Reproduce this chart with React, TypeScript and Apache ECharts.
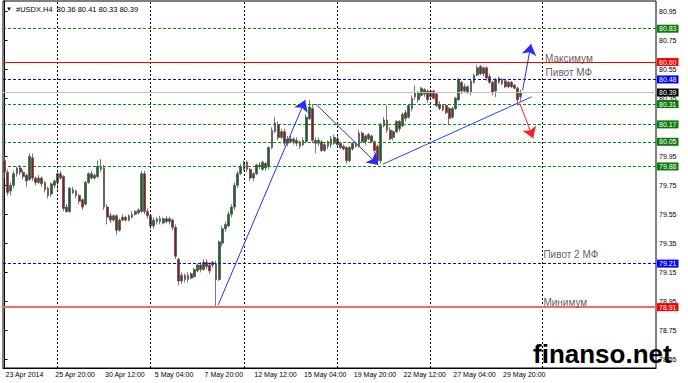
import React, { useEffect, useRef } from "react";
import * as echarts from "echarts";

const symbolName = "#USDX.H4";
const tickLabels = ["23 Apr 2014", "25 Apr 20:00", "30 Apr 12:00", "5 May 04:00", "7 May 20:00", "12 May 12:00", "15 May 04:00", "19 May 20:00", "22 May 12:00", "27 May 04:00", "29 May 20:00"];
const barsPerLabel = 16;
const totalSlots = 210;
const priceTicks = [78.55, 78.75, 78.95, 79.15, 79.35, 79.55, 79.75, 79.95, 80.35, 80.55, 80.75, 80.95];

// [open, close, low, high]
const candles: number[][] = [
  [79.92, 79.84, 79.80, 79.95], [79.84, 79.70, 79.68, 79.86], [79.71, 79.75, 79.68, 79.77], [79.75, 79.83, 79.73, 79.85],
  [79.83, 79.87, 79.81, 79.88], [79.87, 79.84, 79.82, 79.89], [79.84, 79.81, 79.79, 79.86], [79.82, 79.78, 79.74, 79.83],
  [79.79, 79.95, 79.78, 79.97], [79.94, 79.80, 79.78, 79.97], [79.80, 79.77, 79.75, 79.81], [79.77, 79.80, 79.76, 79.82],
  [79.80, 79.76, 79.74, 79.81], [79.77, 79.72, 79.70, 79.78], [79.73, 79.68, 79.66, 79.74], [79.69, 79.76, 79.67, 79.77],
  [79.75, 79.78, 79.73, 79.79], [79.77, 79.83, 79.71, 79.84], [79.83, 79.80, 79.79, 79.85], [79.81, 79.59, 79.57, 79.82],
  [79.60, 79.57, 79.56, 79.62], [79.57, 79.73, 79.56, 79.74], [79.72, 79.70, 79.69, 79.74], [79.71, 79.68, 79.66, 79.72],
  [79.68, 79.64, 79.62, 79.69], [79.65, 79.60, 79.58, 79.66], [79.62, 79.77, 79.61, 79.78], [79.77, 79.83, 79.76, 79.84],
  [79.83, 79.80, 79.79, 79.85], [79.80, 79.82, 79.79, 79.83], [79.81, 79.88, 79.80, 79.92], [79.88, 79.86, 79.84, 79.93],
  [79.87, 79.60, 79.58, 79.89], [79.60, 79.53, 79.48, 79.62], [79.54, 79.51, 79.49, 79.56], [79.51, 79.54, 79.50, 79.55],
  [79.54, 79.44, 79.41, 79.55], [79.44, 79.51, 79.43, 79.52], [79.51, 79.53, 79.50, 79.55], [79.53, 79.51, 79.50, 79.54],
  [79.51, 79.54, 79.50, 79.55], [79.53, 79.55, 79.52, 79.57], [79.55, 79.57, 79.54, 79.58], [79.56, 79.58, 79.55, 79.59],
  [79.57, 79.83, 79.56, 79.85], [79.83, 79.57, 79.55, 79.85], [79.57, 79.54, 79.52, 79.59], [79.54, 79.47, 79.45, 79.55],
  [79.47, 79.51, 79.45, 79.53], [79.50, 79.52, 79.48, 79.53], [79.52, 79.50, 79.48, 79.54], [79.49, 79.52, 79.48, 79.53],
  [79.52, 79.50, 79.49, 79.54], [79.50, 79.52, 79.48, 79.53], [79.51, 79.46, 79.44, 79.52], [79.46, 79.26, 79.24, 79.48],
  [79.24, 79.09, 79.06, 79.25], [79.09, 79.13, 79.07, 79.15], [79.13, 79.10, 79.08, 79.14], [79.10, 79.13, 79.08, 79.15],
  [79.14, 79.11, 79.10, 79.15], [79.12, 79.17, 79.11, 79.18], [79.16, 79.20, 79.15, 79.21], [79.20, 79.17, 79.15, 79.22],
  [79.17, 79.22, 79.16, 79.24], [79.22, 79.19, 79.17, 79.24], [79.20, 79.16, 79.14, 79.22], [79.22, 79.20, 79.18, 79.23],
  [79.21, 79.10, 78.91, 79.23], [79.10, 79.36, 79.09, 79.37], [79.35, 79.45, 79.33, 79.47], [79.45, 79.48, 79.43, 79.50],
  [79.47, 79.55, 79.46, 79.57], [79.55, 79.60, 79.53, 79.62], [79.60, 79.75, 79.58, 79.77], [79.75, 79.83, 79.73, 79.85],
  [79.83, 79.88, 79.82, 79.90], [79.86, 79.91, 79.85, 79.92], [79.91, 79.86, 79.84, 79.92], [79.86, 79.80, 79.78, 79.87],
  [79.80, 79.83, 79.78, 79.84], [79.83, 79.89, 79.82, 79.90], [79.88, 79.89, 79.86, 79.91], [79.86, 79.91, 79.85, 79.92],
  [79.90, 79.87, 79.85, 79.91], [79.88, 80.01, 79.86, 80.02], [80.01, 80.13, 80.00, 80.15], [80.12, 80.18, 80.11, 80.22],
  [80.17, 80.08, 80.06, 80.19], [80.08, 80.12, 80.07, 80.14], [80.12, 80.04, 80.02, 80.14], [80.04, 80.07, 80.02, 80.09],
  [80.07, 80.05, 80.04, 80.09], [80.05, 80.07, 80.03, 80.08], [80.06, 80.04, 80.02, 80.08], [80.05, 80.02, 80.00, 80.06],
  [80.03, 80.06, 80.02, 80.08], [80.05, 80.22, 80.04, 80.24], [80.21, 80.29, 80.20, 80.34], [80.28, 80.06, 80.04, 80.31],
  [80.06, 80.04, 79.97, 80.08], [80.04, 80.06, 80.02, 80.08], [80.05, 79.99, 79.98, 80.06], [79.99, 80.03, 79.98, 80.04],
  [80.02, 80.05, 80.00, 80.06], [80.07, 80.03, 80.01, 80.09], [80.04, 80.08, 80.03, 80.10], [80.07, 80.03, 80.02, 80.09],
  [80.04, 80.01, 80.00, 80.05], [80.00, 80.02, 79.99, 80.03], [80.01, 79.92, 79.90, 80.02], [79.92, 80.01, 79.91, 80.02],
  [80.00, 80.04, 79.99, 80.05], [80.04, 80.02, 80.01, 80.05], [80.02, 80.11, 80.01, 80.13], [80.11, 80.05, 80.04, 80.12],
  [80.05, 80.09, 80.03, 80.10], [80.07, 80.10, 80.06, 80.11], [80.09, 80.05, 80.04, 80.10], [80.05, 79.99, 79.97, 80.06],
  [80.02, 79.92, 79.89, 80.03], [79.92, 80.17, 79.90, 80.18], [80.16, 80.20, 80.15, 80.22], [80.20, 80.13, 80.11, 80.30],
  [80.13, 80.07, 80.06, 80.15], [80.08, 80.12, 80.06, 80.13], [80.12, 80.19, 80.11, 80.20], [80.19, 80.14, 80.12, 80.20],
  [80.16, 80.24, 80.15, 80.25], [80.25, 80.21, 80.19, 80.27], [80.22, 80.30, 80.21, 80.31], [80.28, 80.35, 80.26, 80.37],
  [80.39, 80.36, 80.34, 80.44], [80.34, 80.39, 80.32, 80.40], [80.37, 80.42, 80.36, 80.43], [80.38, 80.41, 80.36, 80.42],
  [80.40, 80.34, 80.32, 80.41], [80.36, 80.40, 80.35, 80.41], [80.40, 80.35, 80.34, 80.41], [80.38, 80.30, 80.29, 80.39],
  [80.31, 80.28, 80.27, 80.33], [80.30, 80.27, 80.26, 80.31], [80.30, 80.25, 80.24, 80.31], [80.28, 80.21, 80.17, 80.29],
  [80.22, 80.28, 80.21, 80.29], [80.28, 80.35, 80.27, 80.36], [80.34, 80.48, 80.33, 80.49], [80.46, 80.40, 80.38, 80.47],
  [80.40, 80.43, 80.39, 80.45], [80.43, 80.39, 80.38, 80.44], [80.39, 80.47, 80.37, 80.48], [80.46, 80.51, 80.45, 80.52],
  [80.51, 80.56, 80.50, 80.58], [80.57, 80.52, 80.51, 80.58], [80.52, 80.56, 80.50, 80.57], [80.56, 80.49, 80.47, 80.57],
  [80.50, 80.46, 80.45, 80.52], [80.46, 80.39, 80.37, 80.47], [80.40, 80.48, 80.36, 80.49], [80.49, 80.46, 80.45, 80.50],
  [80.48, 80.45, 80.44, 80.49], [80.47, 80.43, 80.42, 80.48], [80.43, 80.46, 80.42, 80.47], [80.46, 80.43, 80.42, 80.47],
  [80.44, 80.42, 80.41, 80.45], [80.42, 80.34, 80.30, 80.43], [80.36, 80.39, 80.33, 80.41],
];

const separatorBars = [17, 47, 77, 107, 137, 173];
const greenLevels = [80.83, 80.31, 80.17, 80.05, 79.88];
const blueLevels = [80.48, 79.21];
const redLevel = 80.6;
const minLevel = 78.91;
const bidLevel = 80.39;

// [bar index, price] pairs
const blueArrows = [
  [[68.7, 78.925], [96.7, 80.338]],
  [[100.1, 80.31], [120.2, 79.89]],
  [[166.6, 80.405], [169.3, 80.724]],
];
const trendLines = [[[121.6, 79.895], [169.5, 80.36]]];
const redArrows = [[[165.7, 80.315], [170.0, 80.074]]];

const notes = [
  { text: "Максимум", bar: 173.8, price: 80.625 },
  { text: "Пивот МФ", bar: 174.0, price: 80.528 },
  { text: "Пивот 2 МФ", bar: 173.3, price: 79.272 },
  { text: "Минимум", bar: 173.3, price: 78.945 },
];

const FONT = "'Liberation Sans', Arial, sans-serif";

function levelLine(v: number, color: string, type: any, width: number, bg: string) {
  return {
    yAxis: v,
    lineStyle: { color, type, width },
    label: {
      show: true,
      position: "end",
      formatter: v.toFixed(2),
      backgroundColor: bg,
      color: "#fff",
      fontSize: 7,
      fontFamily: FONT,
      padding: [1, 2, 0, 2],
      distance: 1,
    },
  };
}

export default function App() {
  const ref = useRef<HTMLDivElement>(null);
  useEffect(() => {
    if (!ref.current) return;
    const chart = echarts.init(ref.current, undefined, { renderer: "svg" });
    const slots = Array.from({ length: totalSlots }, (_, i) => String(i));
    const showTick = (idx: number) => idx % barsPerLabel === 0 && idx / barsPerLabel < tickLabels.length;
    const last = candles[candles.length - 1];
    const header = `${symbolName}  ${last[0].toFixed(2)} ${last[3].toFixed(2)} ${last[2].toFixed(2)} ${last[1].toFixed(2)}`;

    const markData: any[] = [
      ...separatorBars.map((b) => ({ xAxis: b, lineStyle: { color: "#000", type: [2, 2], width: 1 }, label: { show: false } })),
      ...greenLevels.map((v) => levelLine(v, "#0a8a0a", [3, 2], 1, "#0a7a0a")),
      ...blueLevels.map((v) => levelLine(v, "#0000ff", [3, 2], 1, "#0000ff")),
      levelLine(redLevel, "#ff0000", "solid", 1, "#ff0000"),
      levelLine(minLevel, "#f36b6b", "solid", 2, "#ff0000"),
      levelLine(bidLevel, "#c0c0c0", "solid", 1, "#000"),
    ];

    chart.setOption({
      animation: false,
      backgroundColor: "#fff",
      textStyle: { fontFamily: FONT },
      grid: { left: 3, right: 32, top: 1, bottom: 15, show: true, borderColor: "#000", borderWidth: 1, backgroundColor: "transparent" },
      xAxis: [
        {
          type: "category",
          data: slots,
          boundaryGap: true,
          axisLine: { lineStyle: { color: "#000" } },
          axisTick: { alignWithLabel: true, interval: (i: number) => showTick(i), length: 3, lineStyle: { color: "#000" } },
          axisLabel: {
            interval: (i: number) => showTick(i),
            formatter: (_v: string, i: number) => (showTick(i) ? tickLabels[i / barsPerLabel] : ""),
            fontSize: 7,
            color: "#000",
            align: "left",
            margin: 3,
            padding: [0, 0, 0, 1],
          },
          splitLine: { show: false },
        },
        { type: "value", min: -0.5, max: totalSlots - 0.5, show: false, splitLine: { show: false } },
      ],
      yAxis: {
        type: "value",
        position: "right",
        min: 78.49,
        max: 81.021,
        axisLine: { show: true, lineStyle: { color: "#000" } },
        axisTick: { show: true, length: 3, customValues: priceTicks, lineStyle: { color: "#000" } },
        axisLabel: { customValues: priceTicks, fontSize: 7, color: "#000", margin: 3, formatter: (v: number) => v.toFixed(2) },
        splitLine: { show: false },
      },
      series: [
        {
          type: "candlestick",
          xAxisIndex: 0,
          yAxisIndex: 0,
          data: candles,
          barWidth: 2.3,
          itemStyle: { color: "#0b6b20", color0: "#a01212", borderColor: "#555", borderColor0: "#555", borderWidth: 0.8 },
          markLine: { silent: true, symbol: "none", animation: false, data: markData },
          z: 3,
        },
        {
          type: "lines",
          coordinateSystem: "cartesian2d",
          xAxisIndex: 1,
          yAxisIndex: 0,
          symbol: ["none", "arrow"],
          symbolSize: 11,
          silent: true,
          lineStyle: { color: "#2a2aff", width: 1, opacity: 1 },
          data: blueArrows.map((c) => ({ coords: c })),
          z: 5,
        },
        {
          type: "lines",
          coordinateSystem: "cartesian2d",
          xAxisIndex: 1,
          yAxisIndex: 0,
          symbol: "none",
          silent: true,
          lineStyle: { color: "#3a3aff", width: 1, opacity: 1 },
          data: trendLines.map((c) => ({ coords: c })),
          z: 5,
        },
        {
          type: "lines",
          coordinateSystem: "cartesian2d",
          xAxisIndex: 1,
          yAxisIndex: 0,
          symbol: ["none", "arrow"],
          symbolSize: 11,
          silent: true,
          lineStyle: { color: "#ff2020", width: 1, opacity: 1 },
          data: redArrows.map((c) => ({ coords: c })),
          z: 5,
        },
        {
          type: "scatter",
          xAxisIndex: 1,
          yAxisIndex: 0,
          symbolSize: 0,
          silent: true,
          data: notes.map((n) => ({ value: [n.bar, n.price], label: { formatter: n.text } })),
          label: { show: true, position: "inside", align: "left", verticalAlign: "middle", color: "#333", fontSize: 10, fontFamily: FONT },
          z: 6,
        },
      ],
      graphic: [
        { type: "text", left: 6, top: 6, style: { text: "▼", fontSize: 6, fill: "#000" } },
        { type: "text", left: 16, top: 5, style: { text: header, fontSize: 7.5, fill: "#000", fontFamily: FONT } },
        {
          type: "text",
          left: 533,
          top: 341,
          z: 100,
          style: { text: "finanso.net", fontSize: 26, fontWeight: "bold", fill: "#000", fontFamily: FONT },
        },
      ],
    });
    return () => chart.dispose();
  }, []);
  return <div ref={ref} style={{ position: "fixed", left: 0, top: 0, width: 688, height: 383 }} />;
}
